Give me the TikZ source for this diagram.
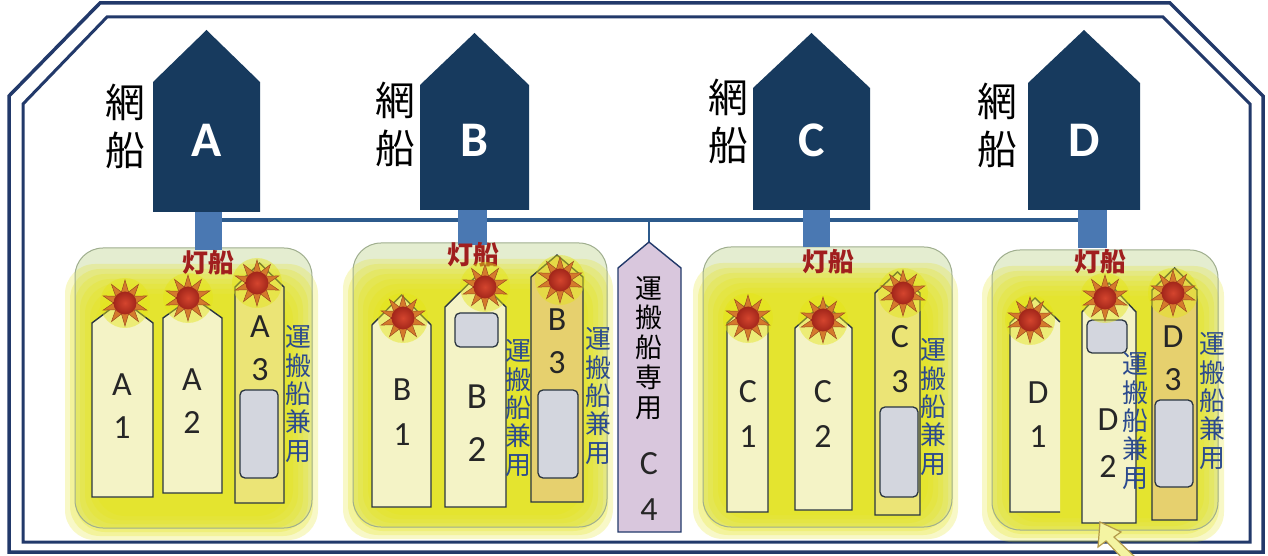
\documentclass[tikz,border=0pt]{standalone}
\usepackage{fontspec}
\setmainfont{Carlito}
\newfontfamily\cjk{Noto Sans CJK JP}
\usetikzlibrary{shapes.geometric}

\definecolor{framec}{HTML}{22396A}
\definecolor{netc}{HTML}{173A5E}
\definecolor{stubc}{HTML}{4A78B2}
\definecolor{linkc}{HTML}{2C5A8C}
\definecolor{boatc}{HTML}{2A3540}
\definecolor{palec}{HTML}{F4F3C6}
\definecolor{tanc}{HTML}{E6D06E}
\definecolor{tanyc}{HTML}{EBE476}
\definecolor{holdc}{HTML}{D3D6DE}
\definecolor{groupc}{HTML}{E4EDD0}
\definecolor{groupd}{HTML}{9FAE8E}
\definecolor{glowc}{HTML}{E4E416}
\definecolor{bluetxt}{HTML}{2B4A8E}
\definecolor{redtxt}{HTML}{A01E1E}
\definecolor{lavc}{HTML}{D9C7DD}
\definecolor{rayc}{HTML}{D47A2C}
\definecolor{rayd}{HTML}{9C4A20}
\definecolor{discin}{HTML}{D4452E}
\definecolor{discout}{HTML}{A2261A}
\definecolor{arrowc}{HTML}{B49A4A}

\tikzset{
  frameline/.style={draw=framec, line width=3.5bp},
  boatline/.style={draw=boatc, line width=1.4bp, line join=miter},
  holdbox/.style={draw=boatc, fill=holdc, line width=1.3bp, rounded corners=5bp},
  boatlbl/.style={font=\fontsize{34}{34}\selectfont, text=black!85, inner sep=0},
  dualtxt/.style={font=\cjk\fontsize{26}{28.5}\selectfont, text=bluetxt, align=center, inner sep=0},
  nettxt/.style={font=\cjk\fontsize{40}{48}\selectfont, text=black, align=center, inner sep=0},
  lamptxt/.style={font=\cjk\bfseries\fontsize{26}{26}\selectfont, text=redtxt, inner sep=0},
  netletter/.style={font=\bfseries\fontsize{50}{50}\selectfont, text=white, inner sep=0},
}

% net ship: name, left, right, apex y, shoulder y, bottom, letter
\newcommand\netship[7]{%
  \fill[netc] (#2,#6) -- (#2,#5) -- ({(#2+#3)/2},#4) -- (#3,#5) -- (#3,#6) -- cycle;
  \node[netletter] (#1) at ({(#2+#3)/2},140) {#7};}
% boat hull: left, right, apex y, shoulder y, bottom, fill
\newcommand\boat[6]{%
  \draw[boatline, fill=#6] (#1,#5) -- (#1,#4) -- ({(#1+#2)/2},#3) -- (#2,#4) -- (#2,#5) -- cycle;}
% lamp: name, x, y
\newcommand\lamp[3]{%
  \fill[glowc, opacity=0.45] (#2,#3) circle (25);
  \node[star, star points=10, star point ratio=2.0, minimum size=46bp, inner sep=0,
        fill=rayc, draw=rayd, line width=0.5bp] (#1) at (#2,#3) {};
  \shade[inner color=discin, outer color=discout] (#2,#3) circle (11.5);}
% group panel with soft yellow glow: x1, y1, x2, y2
\newcommand\panel[4]{%
  \foreach \k in {0,...,6}{
    \fill[glowc, opacity=0.24, rounded corners=30bp]
      ({#1-10+5*\k},{#2+16+5*\k}) rectangle ({#3+6-5*\k},{#4+12-4*\k});
  }
  \draw[groupd, line width=1bp, rounded corners=28bp] (#1,#2) rectangle (#3,#4);}

\begin{document}
\begin{tikzpicture}[x=1bp,y=-1bp]
\useasboundingbox (0,0) rectangle (1268,556);
\fill[white] (0,0) rectangle (1268,556);

% enclosure, double line
\draw[frameline] (100,3) -- (1170,3) -- (1263,96) -- (1263,552) -- (9,552) -- (9,96) -- cycle;
\draw[frameline, line width=3bp] (107,17) -- (1163,17) -- (1250,104) -- (1250,542) -- (23,542) -- (23,104) -- cycle;

% group panels
\fill[groupc, rounded corners=28bp] (75,248) rectangle (312,528);
\fill[groupc, rounded corners=28bp] (353,243) rectangle (607,527);
\fill[groupc, rounded corners=28bp] (703,247) rectangle (952,527);
\fill[groupc, rounded corners=28bp] (992,250) rectangle (1218,530);
\panel{75}{248}{312}{528}
\panel{353}{243}{607}{527}
\panel{703}{247}{952}{527}
\panel{992}{250}{1218}{530}

% links between net ships
\coordinate (jA) at (222,220);
\coordinate (jD) at (1078,220);
\coordinate (jC4) at (649,220);
\coordinate (c4top) at (649,242);
\draw[linkc, line width=3.5bp] (jA) -- (jD);
\draw[linkc, line width=2bp] (jC4) -- (c4top);

% stubs
\fill[stubc] (195,205) rectangle (222,250);
\fill[stubc] (458,205) rectangle (487,245);
\fill[stubc] (803,205) rectangle (830,247);
\fill[stubc] (1078,205) rectangle (1107,248);

% net ships
\netship{netA}{153}{260}{30}{82}{212}{A}
\netship{netB}{420}{529}{33}{85}{210}{B}
\netship{netC}{753}{870}{33}{88}{210}{C}
\netship{netD}{1028}{1140}{30}{83}{210}{D}
\node[nettxt] (lblA) at (125,126) {網\\船};
\node[nettxt] (lblB) at (395,124) {網\\船};
\node[nettxt] (lblC) at (728,121) {網\\船};
\node[nettxt] (lblD) at (997,125) {網\\船};

% lamp-boat labels
\node[lamptxt] (lampA) at (208,263) {灯船};
\node[lamptxt] (lampB) at (473,255) {灯船};
\node[lamptxt] (lampC) at (828,262) {灯船};
\node[lamptxt] (lampD) at (1100,262) {灯船};

% group A
\boat{92}{153}{300}{323}{497}{palec}
\boat{163}{222}{297}{318}{493}{palec}
\boat{235}{284}{263}{287}{503}{tanyc}
\draw[holdbox] (240,390) rectangle (278,478);
\node[boatlbl] (a1a) at (122,385) {A}; \node[boatlbl] (a1b) at (122,428) {1};
\node[boatlbl] (a2a) at (192,380) {A}; \node[boatlbl] (a2b) at (192,423) {2};
\node[boatlbl] (a3a) at (260,327) {A}; \node[boatlbl] (a3b) at (260,370) {3};
\node[dualtxt] (dA) at (298,394) {運\\搬\\船\\兼\\用};

% group B
\boat{372}{431}{295}{325}{507}{palec}
\boat{445}{506}{277}{307}{507}{palec}
\boat{531}{583}{255}{277}{502}{tanc}
\draw[holdbox] (455,313) rectangle (498,347);
\draw[holdbox] (538,390) rectangle (578,478);
\node[boatlbl] (b1a) at (402,390) {B}; \node[boatlbl] (b1b) at (402,435) {1};
\node[boatlbl, font=\fontsize{37}{37}\selectfont] (b2a) at (477,397) {B};
\node[boatlbl, font=\fontsize{37}{37}\selectfont] (b2b) at (477,450) {2};
\node[boatlbl] (b3a) at (557,320) {B}; \node[boatlbl] (b3b) at (557,363) {3};
\node[dualtxt] (dB2) at (518,408) {運\\搬\\船\\兼\\用};
\node[dualtxt] (dB3) at (598,396) {運\\搬\\船\\兼\\用};

% carrier-only boat C4
\draw[boatline, draw=framec, fill=lavc] (618,532) -- (618,268) -- (c4top) -- (681,268) -- (681,532) -- cycle;
\node[font=\cjk\fontsize{27}{30}\selectfont, align=center, inner sep=0] (c4txt) at (649,348) {運\\搬\\船\\専\\用};
\node[boatlbl] (c4a) at (649,464) {C};
\node[boatlbl] (c4b) at (649,510) {4};

% group C
\boat{727}{768}{303}{323}{512}{palec}
\boat{795}{852}{303}{328}{510}{palec}
\boat{875}{920}{272}{293}{515}{tanyc}
\draw[holdbox] (880,407) rectangle (918,497);
\node[boatlbl] (c1a) at (748,392) {C}; \node[boatlbl] (c1b) at (748,437) {1};
\node[boatlbl] (c2a) at (823,392) {C}; \node[boatlbl] (c2b) at (823,437) {2};
\node[boatlbl] (c3a) at (900,337) {C}; \node[boatlbl] (c3b) at (900,382) {3};
\node[dualtxt] (dC) at (933,407) {運\\搬\\船\\兼\\用};

% group D
\fill[palec] (1060,512) -- (1010,512) -- (1010,323) -- (1035,298) -- (1060,322) -- cycle;
\draw[boatline] (1060,512) -- (1010,512) -- (1010,323) -- (1035,298) -- (1060,322);
\boat{1082}{1136}{283}{312}{523}{palec}
\boat{1152}{1197}{268}{290}{520}{tanc}
\draw[holdbox] (1087,320) rectangle (1127,353);
\draw[holdbox] (1155,400) rectangle (1193,487);
\node[boatlbl] (d1a) at (1038,393) {D}; \node[boatlbl] (d1b) at (1038,437) {1};
\node[boatlbl] (d2a) at (1108,420) {D}; \node[boatlbl] (d2b) at (1108,467) {2};
\node[boatlbl] (d3a) at (1173,337) {D}; \node[boatlbl] (d3b) at (1173,380) {3};
\node[dualtxt] (dD2) at (1135,421) {運\\搬\\船\\兼\\用};
\node[dualtxt] (dD3) at (1212,401) {運\\搬\\船\\兼\\用};

% lamps
\lamp{sA1}{125}{303} \lamp{sA2}{188}{298} \lamp{sA3}{257}{283}
\lamp{sB1}{403}{318} \lamp{sB2}{485}{287} \lamp{sB3}{560}{280}
\lamp{sC1}{748}{318} \lamp{sC2}{823}{320} \lamp{sC3}{903}{293}
\lamp{sD1}{1030}{320} \lamp{sD2}{1105}{298} \lamp{sD3}{1173}{293}

% pointer arrow at D2
\coordinate (tipD2) at (1100,522);
\draw[arrowc, line width=1.2bp, fill=glowc!40!white, line join=miter]
  (tipD2) -- (1121,532) -- (1114,537) -- (1136,558) -- (1122,558) -- (1106,541) -- (1098,547) -- cycle;
\end{tikzpicture}
\end{document}
